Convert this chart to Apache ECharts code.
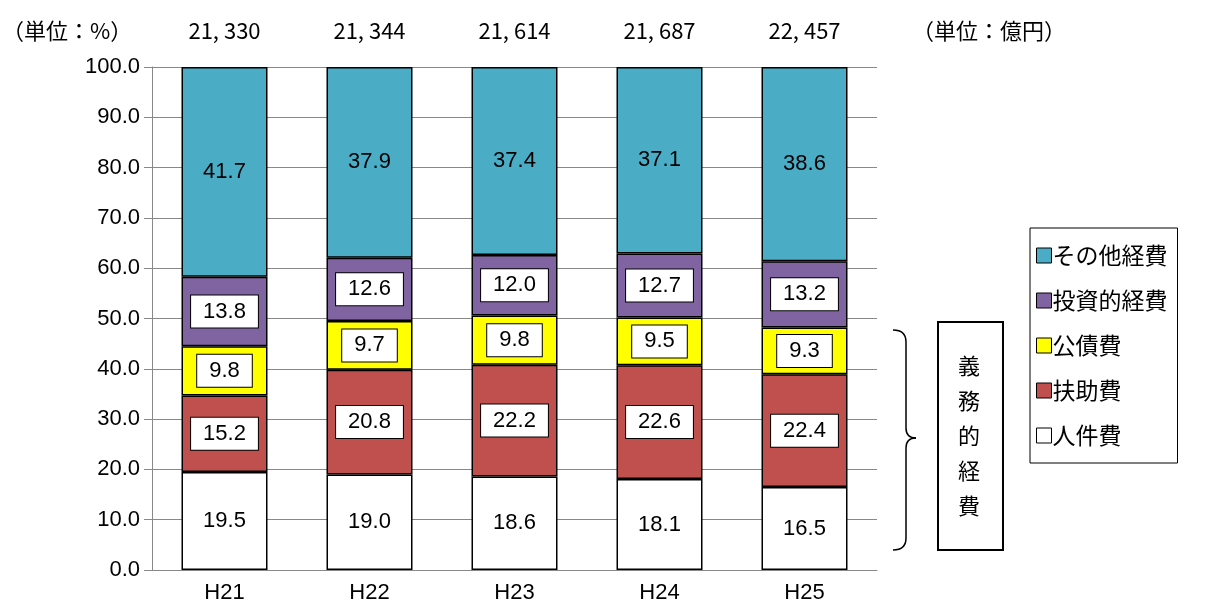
<!DOCTYPE html>
<html>
<head>
<meta charset="utf-8">
<script src="https://cdn.jsdelivr.net/npm/echarts@6/dist/echarts.min.js"></script>
<style>html,body{margin:0;background:#fff}#c{width:1208px;height:610px}</style>
</head>
<body>
<div id="c"></div>
<script>
const years = ['H21', 'H22', 'H23', 'H24', 'H25'];
const totals = ['21, 330', '21, 344', '21, 614', '21, 687', '22, 457'];
const jinken = [19.5, 19.0, 18.6, 18.1, 16.5];
const fujo = [15.2, 20.8, 22.2, 22.6, 22.4];
const kousai = [9.8, 9.7, 9.8, 9.5, 9.3];
const toushi = [13.8, 12.6, 12.0, 12.7, 13.2];
const sonota = [41.7, 37.9, 37.4, 37.1, 38.6];

const font = 'Arial, "Noto Sans CJK JP", sans-serif';
const cjk = '"Noto Sans CJK JP", sans-serif';
const chart = echarts.init(document.getElementById('c'));

function seg(name, data, color, boxed) {
  return {
    name: name, type: 'bar', stack: 'a', data: data, barWidth: 86,
    itemStyle: {color: color, borderColor: '#000', borderWidth: 1.5},
    label: {
      show: true, position: 'inside', color: '#000', fontSize: 22, fontFamily: font,
      formatter: p => p.value.toFixed(1),
      backgroundColor: boxed ? '#fff' : 'transparent',
      borderColor: boxed ? '#000' : 'transparent', borderWidth: boxed ? 1 : 0,
      padding: boxed ? [6, 12, 4, 12] : 0
    }
  };
}

const gl = 152, gr = 877;
const txt = {fontSize: 22, fontFamily: cjk, fill: '#000', textVerticalAlign: 'middle'};
const graphic = totals.map((t, i) => ({
  type: 'text', x: gl + (i + 0.5) * 145, y: 31,
  style: Object.assign({text: t, textAlign: 'center'}, txt)
}));
const br = {stroke: '#000', lineWidth: 1.5, fill: null};
graphic.push(
  {type: 'text', x: 2, y: 31, style: Object.assign({text: '（単位：%）'}, txt)},
  {type: 'text', x: 912, y: 31, style: Object.assign({text: '（単位：億円）'}, txt)},
  {type: 'bezierCurve', shape: {x1: 893, y1: 330, x2: 906, y2: 342, cpx1: 906, cpy1: 330}, style: br},
  {type: 'line', shape: {x1: 906, y1: 342, x2: 906, y2: 428}, style: br},
  {type: 'bezierCurve', shape: {x1: 906, y1: 428, x2: 916, y2: 438, cpx1: 906, cpy1: 438}, style: br},
  {type: 'bezierCurve', shape: {x1: 916, y1: 438, x2: 906, y2: 448, cpx1: 906, cpy1: 438}, style: br},
  {type: 'line', shape: {x1: 906, y1: 448, x2: 906, y2: 538}, style: br},
  {type: 'bezierCurve', shape: {x1: 906, y1: 538, x2: 893, y2: 550, cpx1: 906, cpy1: 550}, style: br},
  {type: 'rect', shape: {x: 938, y: 322, width: 65, height: 228}, style: {fill: '#fff', stroke: '#000', lineWidth: 2}},
  {type: 'text', left: 958, top: 348, style: {text: '義\n務\n的\n経\n費', fontSize: 22, lineHeight: 35, fontFamily: cjk, fill: '#000'}}
);

chart.setOption({
  animation: false,
  grid: {left: gl, right: 1208 - gr, top: 67, bottom: 40},
  xAxis: {
    type: 'category', data: years,
    axisLine: {lineStyle: {color: '#888'}},
    axisTick: {length: 6, lineStyle: {color: '#888'}},
    axisLabel: {color: '#000', fontSize: 22, fontFamily: font, margin: 12}
  },
  yAxis: {
    type: 'value', min: 0, max: 100, interval: 10,
    axisLine: {show: true, lineStyle: {color: '#888'}},
    axisTick: {show: true, length: 8, lineStyle: {color: '#888'}},
    splitLine: {lineStyle: {color: '#888'}},
    axisLabel: {color: '#000', fontSize: 22, fontFamily: font, margin: 12, formatter: v => v.toFixed(1)}
  },
  legend: {
    orient: 'vertical', left: 1030, top: 228, width: 175,
    data: ['その他経費', '投資的経費', '公債費', '扶助費', '人件費'],
    icon: 'rect', itemWidth: 15, itemHeight: 15, itemGap: 22,
    padding: [16, 10, 16, 6], borderColor: '#000', borderWidth: 1,
    itemStyle: {borderColor: '#000', borderWidth: 1},
    textStyle: {fontSize: 23, fontFamily: cjk, color: '#000', padding: [0, 0, 0, -4]}
  },
  graphic: graphic,
  series: [
    seg('人件費', jinken, '#ffffff', false),
    seg('扶助費', fujo, '#c0504d', true),
    seg('公債費', kousai, '#ffff00', true),
    seg('投資的経費', toushi, '#8064a2', true),
    seg('その他経費', sonota, '#4bacc6', false)
  ]
});
</script>
</body>
</html>
